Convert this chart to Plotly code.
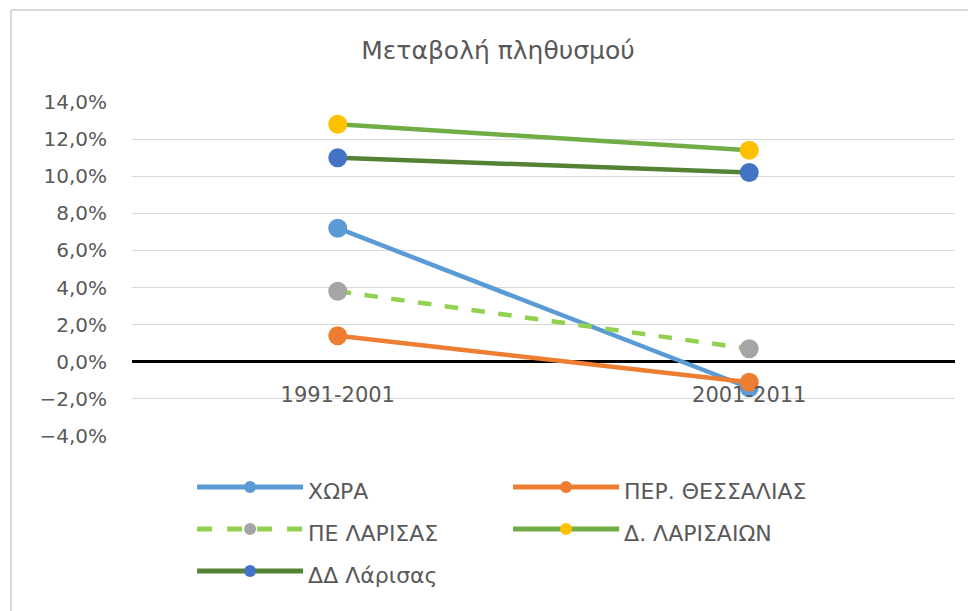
import plotly.graph_objects as go

categories = ["1991-2001", "2001-2011"]
series_names = ["ΧΩΡΑ", "ΠΕΡ. ΘΕΣΣΑΛΙΑΣ", "ΠΕ ΛΑΡΙΣΑΣ", "Δ. ΛΑΡΙΣΑΙΩΝ", "ΔΔ Λάρισας"]
xwra = [0.072, -0.014]
per_thessalias = [0.014, -0.011]
pe_larisas = [0.038, 0.007]
d_larisaion = [0.128, 0.114]
dd_larisas = [0.110, 0.102]
y_ticks = [-0.04, -0.02, 0.0, 0.02, 0.04, 0.06, 0.08, 0.10, 0.12, 0.14]

values = [xwra, per_thessalias, pe_larisas, d_larisaion, dd_larisas]
line_colors = ["#5B9BD5", "#ED7D31", "#92D050", "#70AD47", "#548235"]
marker_colors = ["#5B9BD5", "#ED7D31", "#A5A5A5", "#FFC000", "#4472C4"]
dashes = ["solid", "solid", "dash", "solid", "solid"]

FONT = "DejaVu Sans"
font_color = "#595959"

fig = go.Figure()
for name, vals, lc, mc, ds in zip(series_names, values, line_colors, marker_colors, dashes):
    fig.add_trace(go.Scatter(
        x=categories, y=vals,
        name='<span style="font-size:22px">' + name + '</span>',
        mode="lines+markers",
        line=dict(color=lc, width=4.5, dash=ds),
        marker=dict(color=mc, size=19),
    ))

W, H = 976, 611
ML, MR, MT, MB = 124, 29, 94, 183
PW, PH = W - ML - MR, H - MT - MB
left_x = (3 - ML) / PW
top_y = 1 + (MT - 2) / PH
border = dict(color="#D9D9D9", width=2)
fig.update_layout(
    width=W, height=H,
    paper_bgcolor="white", plot_bgcolor="white",
    separators=",.",
    font=dict(family=FONT, color=font_color, size=20),
    title=dict(text="Μεταβολή πληθυσμού", x=490 / W, xanchor="center",
               y=1 - 42 / H, yanchor="middle", yref="container",
               font=dict(size=25, color=font_color)),
    margin=dict(l=ML, r=MR, t=MT, b=MB),
    showlegend=True,
    legend=dict(orientation="h", x=0.073, xanchor="left", y=-0.075, yanchor="top",
                entrywidth=195, entrywidthmode="pixels", traceorder="normal",
                font=dict(family=FONT, size=30, color=font_color), itemwidth=106,
                itemsizing="constant"),
    shapes=[
        dict(type="line", xref="paper", yref="paper", x0=left_x, x1=left_x,
             y0=-(MB + 40) / PH, y1=top_y, line=border, layer="below"),
        dict(type="line", xref="paper", yref="paper", x0=left_x, x1=1 + (MR + 40) / PW,
             y0=top_y, y1=top_y, line=border, layer="below"),
    ],
)
fig.update_yaxes(
    range=[-0.04, 0.14], tickvals=y_ticks, tickformat=".1%",
    showgrid=True, gridcolor="#D9D9D9", gridwidth=1,
    zeroline=True, zerolinecolor="black", zerolinewidth=3,
    showline=False, ticklabelstandoff=24, tickfont=dict(family=FONT, size=20, color=font_color),
)
fig.update_xaxes(
    range=[-0.5, 1.5], anchor="free", position=4 / 18,
    showgrid=False, showline=False, zeroline=False,
    ticklabelstandoff=18, tickfont=dict(family=FONT, size=21, color=font_color),
)

fig.write_html("out.html")
